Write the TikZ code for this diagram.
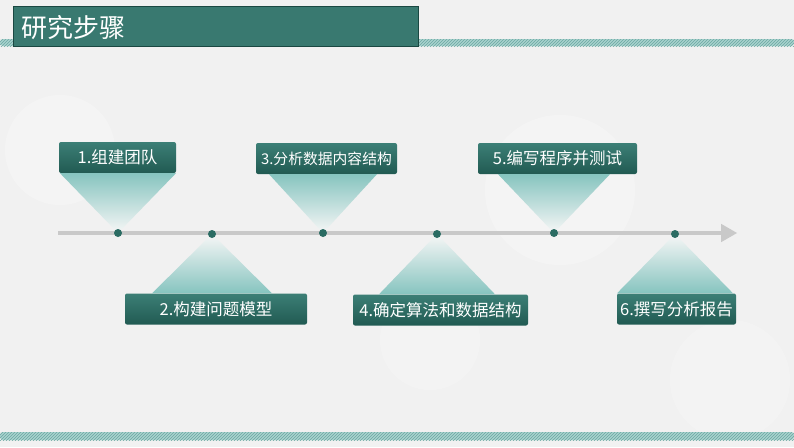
\documentclass[tikz,border=0pt]{standalone}
\usepackage{fontspec}
\newfontfamily\cjk{Noto Sans CJK SC}
\usepackage{tikz}
\usetikzlibrary{arrows, calc, patterns, positioning}

\definecolor{bgc}{HTML}{F1F1F1}
\definecolor{boxtop}{HTML}{3C7F76}
\definecolor{boxbot}{HTML}{215A52}
\definecolor{tric}{HTML}{86C4BF}
\definecolor{dotc}{HTML}{2B6C63}
\definecolor{stripec}{HTML}{A9D2CE}
\definecolor{stripel}{HTML}{6AA8A2}

\tikzset{
  stepbox/.style={rounded corners=2pt, top color=boxtop, bottom color=boxbot,
    text=white, font=\cjk\fontsize{16.5}{16.5}\selectfont, minimum height=31pt, inner sep=0pt},
  dot/.style={circle, fill=dotc, inner sep=0pt, minimum size=8pt},
  funnel down/.style={top color=tric, bottom color=bgc!60!white},
  funnel up/.style={top color=bgc!60!white, bottom color=tric},
  timeline/.style={line width=3.5pt, color=black!21},
  stripe/.style={fill=stripec, rounded corners=3pt},
}

\begin{document}
\begin{tikzpicture}[x=1pt,y=-1pt]
					\useasboundingbox (0,0) rectangle (794,447);
					\fill[bgc] (0,0) rectangle (794,447);
					\fill[white, opacity=.25] (60,150) circle (55);
					\fill[white, opacity=.25] (560,190) circle (75);
					\fill[white, opacity=.2] (730,380) circle (60);
					\fill[white, opacity=.2] (430,340) circle (50);
				
					% stripes
					\fill[stripe] (0,39) rectangle (794,46);
					\fill[pattern=north east lines, pattern color=stripel] (0,39) rectangle (794,46);
					\fill[stripe] (0,432) rectangle (794,440);
					\fill[pattern=north east lines, pattern color=stripel] (0,432) rectangle (794,440);
				
					\node[fill=boxtop!95!black, draw=boxbot!80!black, line width=1pt, minimum width=405pt, minimum height=40pt, inner sep=0pt] (title) at (215.5,26.5) {};
					\node[text=white, font=\cjk\fontsize{26}{26}\selectfont, anchor=west, inner sep=0pt] (titletext) at (21,28) {研究步骤};
				
					% boxes
					\node[stepbox, minimum width=117pt] (s1) at (117.5,157.5) {1.组建团队};
					\node[stepbox, minimum width=182pt] (s2) at (216,309) {2.构建问题模型};
					\node[stepbox, minimum width=141pt, font=\cjk\fontsize{14.8}{14.8}\selectfont] (s3) at (326.5,158.5) {3.分析数据内容结构};
					\node[stepbox, minimum width=175pt] (s4) at (440.5,310) {4.确定算法和数据结构};
					\node[stepbox, minimum width=159pt] (s5) at (557.5,158.5) {5.编写程序并测试};
					\node[stepbox, minimum width=119pt] (s6) at (676.5,309) {6.撰写分析报告};
				
					\coordinate (d1) at (118,233);
					\coordinate (d2) at (212,234);
					\coordinate (d3) at (323,233);
					\coordinate (d4) at (437,234);
					\coordinate (d5) at (554,233);
					\coordinate (d6) at (675,234);
				
					% funnels
					\shade[funnel down] (d1) -- ($(d1 |- s1.south)+(-58,0)$) -- ($(d1 |- s1.south)+(58,0)$) -- cycle;
					\shade[funnel down] (d3) -- ($(d3 |- s3.south)+(-54,0)$) -- ($(d3 |- s3.south)+(54,0)$) -- cycle;
					\shade[funnel down] (d5) -- ($(d5 |- s5.south)+(-56,0)$) -- ($(d5 |- s5.south)+(56,0)$) -- cycle;
					\shade[funnel up] (d2) -- ($(d2 |- s2.north)+(-60,0)$) -- ($(d2 |- s2.north)+(60,0)$) -- cycle;
					\shade[funnel up] (d4) -- ($(d4 |- s4.north)+(-58,0)$) -- ($(d4 |- s4.north)+(58,0)$) -- cycle;
					\shade[funnel up] (d6) -- ($(d6 |- s6.north)+(-58,0)$) -- ($(d6 |- s6.north)+(58,0)$) -- cycle;
				
					\coordinate (tl0) at (58,233);
					\coordinate (tl1) at (737,233);
					\draw[timeline, -triangle 60] (tl0) -- (tl1);
				
					\node[dot] (p1) at (d1) {};
					\node[dot] (p2) at (d2) {};
					\node[dot] (p3) at (d3) {};
					\node[dot] (p4) at (d4) {};
					\node[dot] (p5) at (d5) {};
					\node[dot] (p6) at (d6) {};
				\end{tikzpicture}
\end{document}
